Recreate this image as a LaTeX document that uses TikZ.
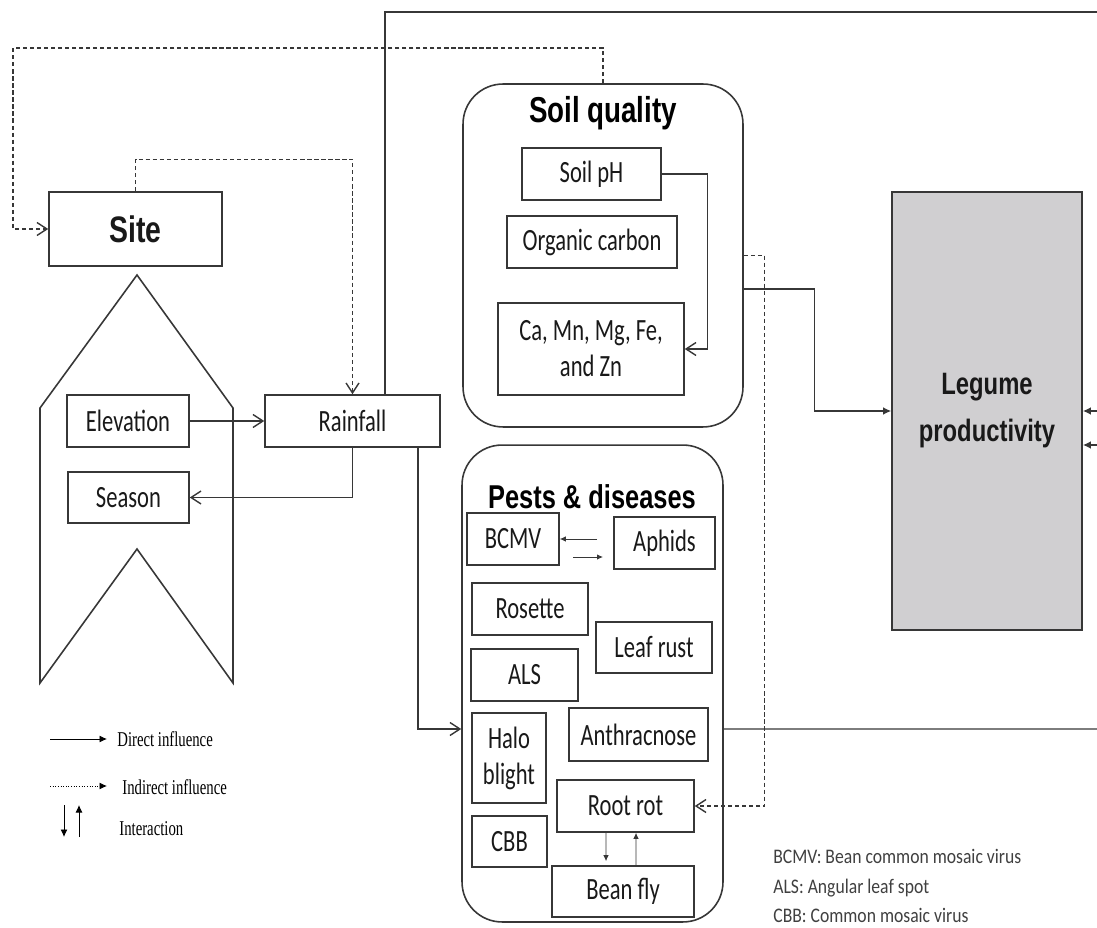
\documentclass[tikz,border=0pt]{standalone}
\usepackage{fontspec}
\usepackage{tikz}
\usetikzlibrary{arrows.meta}
\definecolor{linegray}{RGB}{55,55,55}
\definecolor{legumegray}{RGB}{208,207,209}
\newfontfamily\boxfont[FakeStretch=0.73]{Carlito}
\newfontfamily\notefont[FakeStretch=0.85]{Carlito}
\newfontfamily\titlefont[FakeStretch=0.77]{Liberation Sans}
\newfontfamily\legendfont[FakeStretch=0.7]{Liberation Serif}

\begin{document}
\begin{tikzpicture}[
            x=0.02cm, y=-0.02cm,
            box/.style={rectangle, draw=linegray, line width=0.9pt, inner sep=0pt, align=center,
                        text=black!90, font=\boxfont\fontsize{17.6}{20.5}\selectfont},
            group/.style={rectangle, rounded corners=0.8cm, draw=linegray, line width=0.9pt, inner sep=0pt},
            title/.style={inner sep=0pt, align=center, font=\titlefont\bfseries\fontsize{18.8}{21}\selectfont},
            arrow/.style={-{Straight Barb[length=2mm,width=2.6mm]}, linegray, line width=0.8pt},
            dasharrow/.style={arrow, dash pattern=on 2.4pt off 1.6pt},
            tiparrow/.style={-{Latex[length=1.6mm,width=1.5mm]}, linegray, line width=0.8pt},
            smallarrow/.style={-{Latex[length=1.2mm,width=1.1mm]}, linegray, line width=0.5pt},
            legendarrow/.style={-{Latex[length=1.5mm,width=1.4mm]}, black, line width=0.5pt},
            legendtext/.style={anchor=west, inner sep=0pt, font=\legendfont\fontsize{12}{14}\selectfont}
        ]
            \useasboundingbox (0,0) rectangle (1097,928);

            % Site and its chevron
            \node[box, minimum width=3.46cm, minimum height=1.48cm,
                  font=\titlefont\bfseries\fontsize{21}{24}\selectfont] (site) at (135.5,229) {Site};
            \draw[linegray, line width=0.9pt] (40,408) -- (137,275) -- (233,408) -- (233,683)
                -- (137,549) -- (40,683) -- cycle;
            \node[box, minimum width=2.44cm, minimum height=1.04cm] (elev) at (128,421) {Elevation};
            \node[box, minimum width=2.42cm, minimum height=1.02cm] (season) at (128.5,497.5) {Season};
            \node[box, minimum width=3.5cm, minimum height=1.04cm] (rain) at (352.5,421) {Rainfall};

            % Soil quality
            \node[group, minimum width=5.6cm, minimum height=6.86cm] (soil) at (603,255.5) {};
            \node[title, font=\titlefont\bfseries\fontsize{20.5}{23}\selectfont] (soiltitle) at (603,113) {Soil quality};
            \node[box, minimum width=2.78cm, minimum height=1.04cm] (ph) at (591.5,174) {Soil pH};
            \node[box, minimum width=3.4cm, minimum height=1.04cm] (orgc) at (592,242) {Organic carbon};
            \node[box, minimum width=3.72cm, minimum height=1.84cm] (nutr) at (591,349) {Ca, Mn, Mg, Fe,\\and Zn};

            % Legume productivity
            \node[box, fill=legumegray, minimum width=3.8cm, minimum height=8.76cm,
                  font=\titlefont\bfseries\fontsize{17.6}{26.7}\selectfont] (legume) at (987,411) {Legume\\productivity};

            % Pests & diseases
            \node[group, minimum width=5.22cm, minimum height=9.54cm] (pests) at (592.5,683.5) {};
            \node[title] (peststitle) at (592,497) {Pests \& diseases};
            \node[box, minimum width=1.84cm, minimum height=1.04cm] (bcmv) at (513,539) {BCMV};
            \node[box, minimum width=2.02cm, minimum height=1.04cm] (aphids) at (664.5,543) {Aphids};
            \node[box, minimum width=2.32cm, minimum height=1.04cm] (rosette) at (530,609) {Rosette};
            \node[box, minimum width=2.32cm, minimum height=1.02cm] (leafrust) at (654,647.5) {Leaf rust};
            \node[box, minimum width=2.14cm, minimum height=1.04cm] (als) at (524.5,675) {ALS};
            \node[box, minimum width=1.48cm, minimum height=1.8cm] (halo) at (509,758) {Halo\\blight};
            \node[box, minimum width=2.78cm, minimum height=1.06cm] (anthr) at (638.5,734.5) {Anthracnose};
            \node[box, minimum width=2.74cm, minimum height=1.04cm] (rootrot) at (625.5,806) {Root rot};
            \node[box, minimum width=1.5cm, minimum height=1.02cm] (cbb) at (509.5,841.5) {CBB};
            \node[box, minimum width=2.84cm, minimum height=1.02cm] (beanfly) at (623,891.5) {Bean fly};

            % Free ends
            \coordinate (topexit) at (1097,12);
            \coordinate (pestsexit) at (1097,729);
            \coordinate (rin1) at (1097,411);
            \coordinate (rin2) at (1097,445);
            \coordinate (ba1) at (597,539);
            \coordinate (ba2) at (573,557);
            \coordinate (ba3) at (603,557);

            % Connectors
            \draw[dasharrow] (soil.north) |- (13,48) |- (site.west);
            \draw[dasharrow] (site.north) -- ++(0,-32) -| (rain.north);
            \draw[arrow] (elev) -- (rain);
            \draw[arrow] (rain.south) |- (season);
            \draw[arrow] ([xshift=1.31cm]rain.south) |- ([yshift=-0.91cm]pests.west);
            \draw[linegray, line width=0.8pt] ([xshift=0.65cm]rain.north) |- (topexit);
            \draw[arrow] (ph.east) -- ++(46,0) |- (nutr.east);
            \draw[tiparrow] ([yshift=-0.67cm]soil.east) -- ++(71,0) |- (legume.west);
            \draw[dasharrow] (soil.east) -- ++(21,0) |- (rootrot.east);
            \draw[linegray, line width=0.8pt] ([yshift=-0.91cm]pests.east) -- (pestsexit);
            \draw[tiparrow] (rin1) -- (legume.east);
            \draw[tiparrow] (rin2) -- (rin2 -| legume.east);
            \draw[smallarrow] (ba1) -- (bcmv.east);
            \draw[smallarrow] (ba2) -- (ba3);
            \draw[smallarrow] ([xshift=-0.39cm]rootrot.south) -- ([xshift=-0.34cm,yshift=0.08cm]beanfly.north);
            \draw[smallarrow] ([xshift=0.26cm]beanfly.north) -- ([xshift=0.21cm]rootrot.south);

            % Legend
            \coordinate (ld1) at (50,739);
            \coordinate (ld2) at (107,739);
            \coordinate (li1) at (50,786);
            \coordinate (li2) at (107,786);
            \coordinate (lx1) at (64,805);
            \coordinate (lx2) at (64,837);
            \coordinate (lx3) at (79,837);
            \coordinate (lx4) at (79,805);
            \draw[legendarrow] (ld1) -- (ld2);
            \draw[legendarrow, densely dotted] (li1) -- (li2);
            \draw[legendarrow] (lx1) -- (lx2);
            \draw[legendarrow] (lx3) -- (lx4);
            \node[legendtext] (ldtext) at (117,739) {Direct influence};
            \node[legendtext] (litext) at (122,787) {Indirect influence};
            \node[legendtext] (lxtext) at (119,829) {Interaction};

            % Abbreviations
            \node[anchor=west, inner sep=0pt, align=left, text=black!75,
                  font=\notefont\fontsize{11.8}{17}\selectfont] (abbr) at (773,886)
                 {BCMV: Bean common mosaic virus\\ALS: Angular leaf spot\\CBB: Common mosaic virus};
        \end{tikzpicture}
\end{document}
